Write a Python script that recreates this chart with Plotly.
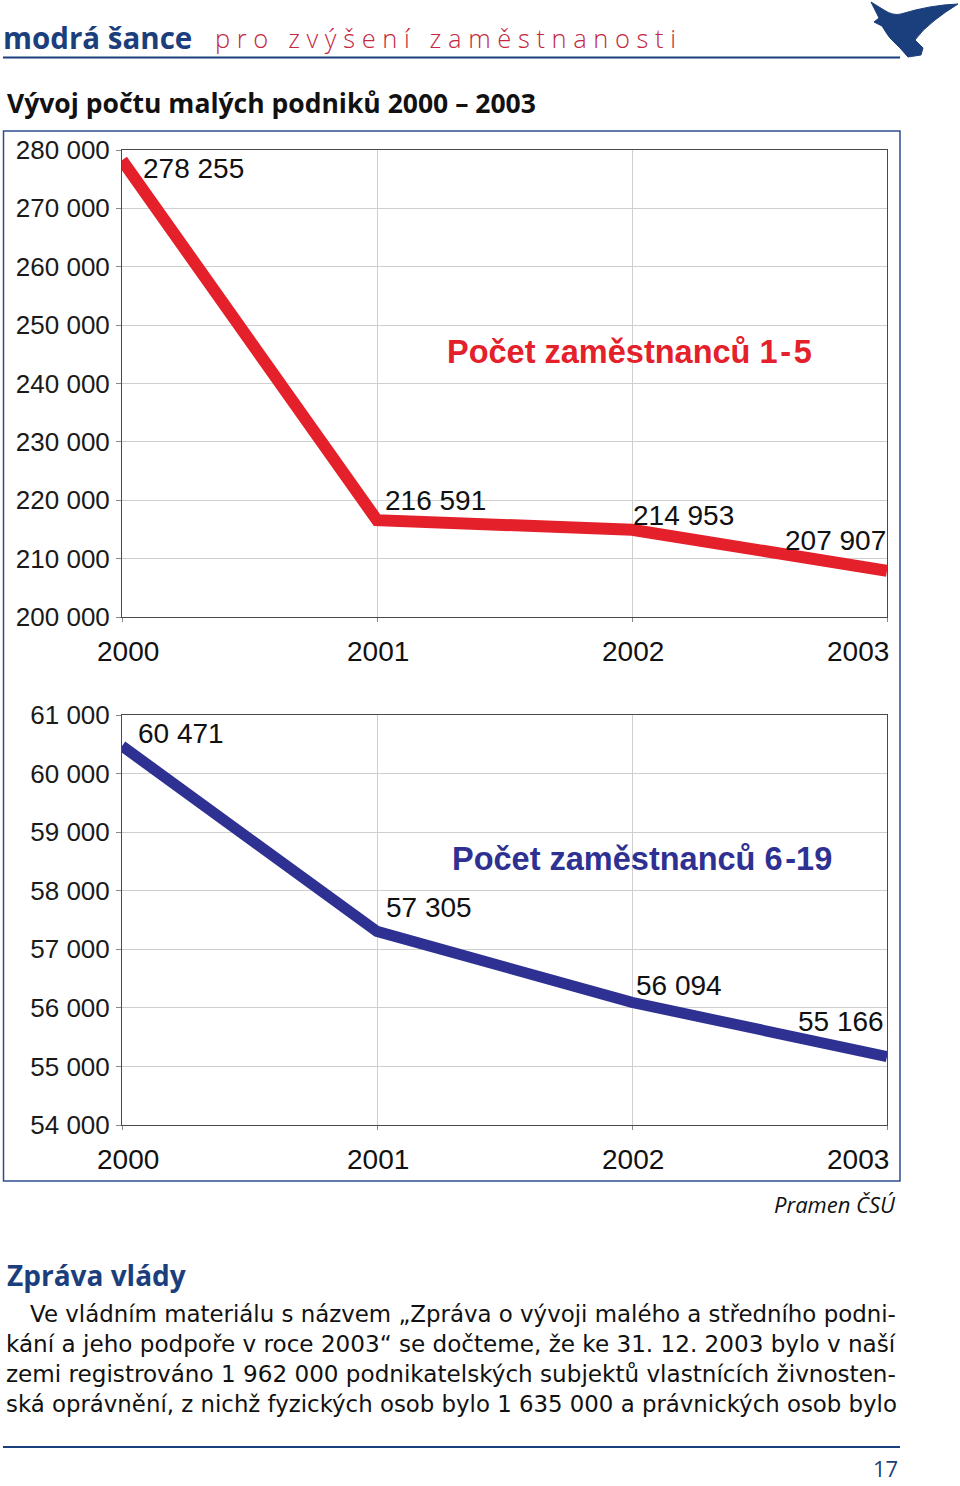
import plotly.graph_objects as go

# ---------------- data ----------------
years = [2000, 2001, 2002, 2003]
small_1_5 = [278255, 216591, 214953, 207907]
small_6_19 = [60471, 57305, 56094, 55166]
label_1_5 = ["278 255", "216 591", "214 953", "207 907"]
label_6_19 = ["60 471", "57 305", "56 094", "55 166"]
series_1_5_name = "Počet zaměstnanců 1\u200a-\u200a5"
series_6_19_name = "Počet zaměstnanců 6\u200a-19"
year_labels = ["2000", "2001", "2002", "2003"]

header_main = "modrá šance"
header_sub = "pro zvýšení zaměstnanosti"
chart_title = "Vývoj počtu malých podniků 2000 – 2003"
source_text = "Pramen ČSÚ"
section_title = "Zpráva vlády"
paragraph_lines = [
    "Ve vládním materiálu s názvem „Zpráva o vývoji malého a středního podni-",
    "kání a jeho podpoře v roce 2003“ se dočteme, že ke 31. 12. 2003 bylo v naší",
    "zemi registrováno 1 962 000 podnikatelských subjektů vlastnících živnosten-",
    "ská oprávnění, z nichž fyzických osob bylo 1 635 000 a právnických osob bylo",
]
page_number = "17"

# ---------------- styles ----------------
W, H = 960, 1486
RED = "#e4202a"
BLUE = "#2e3192"
HBLUE = "#1b3e7c"
SUBRED = "#c4283f"
GRID = "#cfcfcf"
FRAME = "#4a4a4a"
CHART_FONT = "Liberation Sans, Arial, sans-serif"
TEXT_FONT = "Open Sans, Noto Sans, sans-serif"
PARA_FONT = "DejaVu Sans, sans-serif"


def px(x):
    return x / W


def py(y):
    return 1 - y / H


# label offsets (anchor, xshift, yshift)
offs_1_5 = [("left", 19, -8), ("left", 6, 20), ("left", -1, 14), ("right", 1, 30)]
offs_6_19 = [("left", 14, 12), ("left", 7, 24), ("left", 2, 17), ("right", -1, 35)]
# paragraph font sizes per line (emulates the justified block)
para_sizes = [22.9, 23.1, 23.1, 22.85]

fig = go.Figure()
fig.add_trace(go.Scatter(x=years, y=small_1_5, mode="lines",
                         line=dict(color=RED, width=12), xaxis="x", yaxis="y",
                         hoverinfo="skip", showlegend=False))
fig.add_trace(go.Scatter(x=years, y=small_6_19, mode="lines",
                         line=dict(color=BLUE, width=11), xaxis="x2", yaxis="y2",
                         hoverinfo="skip", showlegend=False))

xdom = [px(122), px(887)]
common_x = dict(range=[2000, 2003], tickvals=years, showticklabels=False,
                ticks="outside", ticklen=4, tickcolor="#888", showgrid=True,
                gridcolor=GRID, gridwidth=1, showline=True, linecolor=FRAME,
                linewidth=1, mirror=True, zeroline=False, domain=xdom,
                fixedrange=True, automargin=False)
common_y = dict(tickformat=",d", ticks="outside", ticklen=5, tickcolor="#888",
                showgrid=True, gridcolor=GRID, gridwidth=1, showline=True,
                linecolor=FRAME, linewidth=1, mirror=True, zeroline=False,
                tickfont=dict(family=CHART_FONT, size=26, color="#1a1a1a"),
                ticklabelstandoff=1, fixedrange=True, automargin=False)

fig.update_layout(
    width=W, height=H, margin=dict(l=0, r=0, t=0, b=0, pad=0, autoexpand=False),
    paper_bgcolor="white", plot_bgcolor="white", separators=", ",
    showlegend=False,
    xaxis=dict(anchor="y", **common_x),
    yaxis=dict(anchor="x", domain=[py(617), py(150)], range=[200000, 280000],
               dtick=10000, **common_y),
    xaxis2=dict(anchor="y2", **common_x),
    yaxis2=dict(anchor="x2", domain=[py(1125), py(715)], range=[54000, 61000],
                dtick=1000, **common_y),
)

ann = []
# data labels
for xv, yv, t, (anc, xs, ys) in zip(years, small_1_5, label_1_5, offs_1_5):
    ann.append(dict(x=xv, y=yv, xref="x", yref="y", text=t, showarrow=False,
                    xanchor=anc, yanchor="middle", xshift=xs, yshift=ys,
                    font=dict(family=CHART_FONT, size=28, color="#111")))
for xv, yv, t, (anc, xs, ys) in zip(years, small_6_19, label_6_19, offs_6_19):
    ann.append(dict(x=xv, y=yv, xref="x2", yref="y2", text=t, showarrow=False,
                    xanchor=anc, yanchor="middle", xshift=xs, yshift=ys,
                    font=dict(family=CHART_FONT, size=28, color="#111")))
# x tick labels
for xref, yrow in (("x", 651), ("x2", 1159)):
    for i, (xv, t) in enumerate(zip(years, year_labels)):
        if i == 0:
            anc, xs = "left", -27
        elif i == len(years) - 1:
            anc, xs = "right", 4
        else:
            anc, xs = "center", 1
        ann.append(dict(x=xv, y=py(yrow), xref=xref, yref="paper", text=t,
                        showarrow=False, xanchor=anc, yanchor="middle", xshift=xs,
                        font=dict(family=CHART_FONT, size=28, color="#111")))
# series titles
ann.append(dict(x=px(445), y=py(352), xref="paper", yref="paper", text="<b>" + series_1_5_name + "</b>",
                showarrow=False, xanchor="left", yanchor="middle",
                font=dict(family=CHART_FONT, size=32.5, color=RED)))
ann.append(dict(x=px(450), y=py(859), xref="paper", yref="paper", text="<b>" + series_6_19_name + "</b>",
                showarrow=False, xanchor="left", yanchor="middle",
                font=dict(family=CHART_FONT, size=32.5, color=BLUE)))

# header
ann.append(dict(x=px(1), y=py(38), xref="paper", yref="paper", text="<b>" + header_main + "</b>",
                showarrow=False, xanchor="left", yanchor="middle",
                font=dict(family=TEXT_FONT, size=29.5, color=HBLUE)))
spaced = "\u00a0\u00a0\u00a0".join("\u00a0".join(list(w)) for w in header_sub.split(" "))
ann.append(dict(x=px(213), y=py(38), xref="paper", yref="paper", text=spaced,
                showarrow=False, xanchor="left", yanchor="middle",
                font=dict(family="Open Sans Light, Open Sans, sans-serif", size=25.5, color=SUBRED)))
ann.append(dict(x=px(5), y=py(103), xref="paper", yref="paper", text="<b>" + chart_title + "</b>",
                showarrow=False, xanchor="left", yanchor="middle",
                font=dict(family=TEXT_FONT, size=26.5, color="#111")))
ann.append(dict(x=px(898), y=py(1204), xref="paper", yref="paper", text="<i>" + source_text + "</i>",
                showarrow=False, xanchor="right", yanchor="middle",
                font=dict(family=TEXT_FONT, size=22, color="#111")))
ann.append(dict(x=px(5), y=py(1275), xref="paper", yref="paper", text="<b>" + section_title + "</b>",
                showarrow=False, xanchor="left", yanchor="middle",
                font=dict(family=TEXT_FONT, size=28, color=HBLUE)))
for i, (line, fs) in enumerate(zip(paragraph_lines, para_sizes)):
    ann.append(dict(x=px(29 if i == 0 else 5), y=py(1314 + 30 * i), xref="paper", yref="paper",
                    text=line, showarrow=False, xanchor="left", yanchor="middle",
                    borderpad=0,
                    font=dict(family=PARA_FONT, size=fs, color="#111")))
ann.append(dict(x=px(900), y=py(1468), xref="paper", yref="paper", text=page_number,
                showarrow=False, xanchor="right", yanchor="middle",
                font=dict(family=TEXT_FONT, size=22, color=HBLUE)))
fig.update_layout(annotations=ann)

# decorations: header rule, outer chart frame, footer rule, bird logo
shapes = [
    dict(type="line", xref="paper", yref="paper", x0=px(3), x1=px(900), y0=py(57.5), y1=py(57.5),
         line=dict(color=HBLUE, width=2)),
    dict(type="rect", xref="paper", yref="paper", x0=px(3.5), x1=px(900), y0=py(1181), y1=py(131),
         line=dict(color="#2d4e8c", width=1.5)),
    dict(type="line", xref="paper", yref="paper", x0=px(3), x1=px(900), y0=py(1447), y1=py(1447),
         line=dict(color=HBLUE, width=2)),
]
bird = [("M", 871, 2), ("L", 884, 10), ("Q", 893, 16, 901, 14), ("Q", 930, 5, 958, 4),
        ("Q", 945, 12, 935, 20), ("Q", 922, 30, 915, 40), ("L", 923, 48), ("L", 921, 55),
        ("L", 908, 57), ("L", 900, 48), ("Q", 888, 38, 882, 26), ("L", 874, 22), ("L", 879, 18),
        ("Q", 875, 10, 871, 2)]
parts = []
for seg in bird:
    cmd, coords = seg[0], seg[1:]
    pts = []
    for j in range(0, len(coords), 2):
        pts.append(f"{px(coords[j]):.5f},{py(coords[j + 1]):.5f}")
    parts.append(cmd + " " + " ".join(pts))
shapes.append(dict(type="path", xref="paper", yref="paper", path=" ".join(parts) + " Z",
                   fillcolor=HBLUE, line=dict(color=HBLUE, width=1)))
fig.update_layout(shapes=shapes)

fig.write_html("out.html")
